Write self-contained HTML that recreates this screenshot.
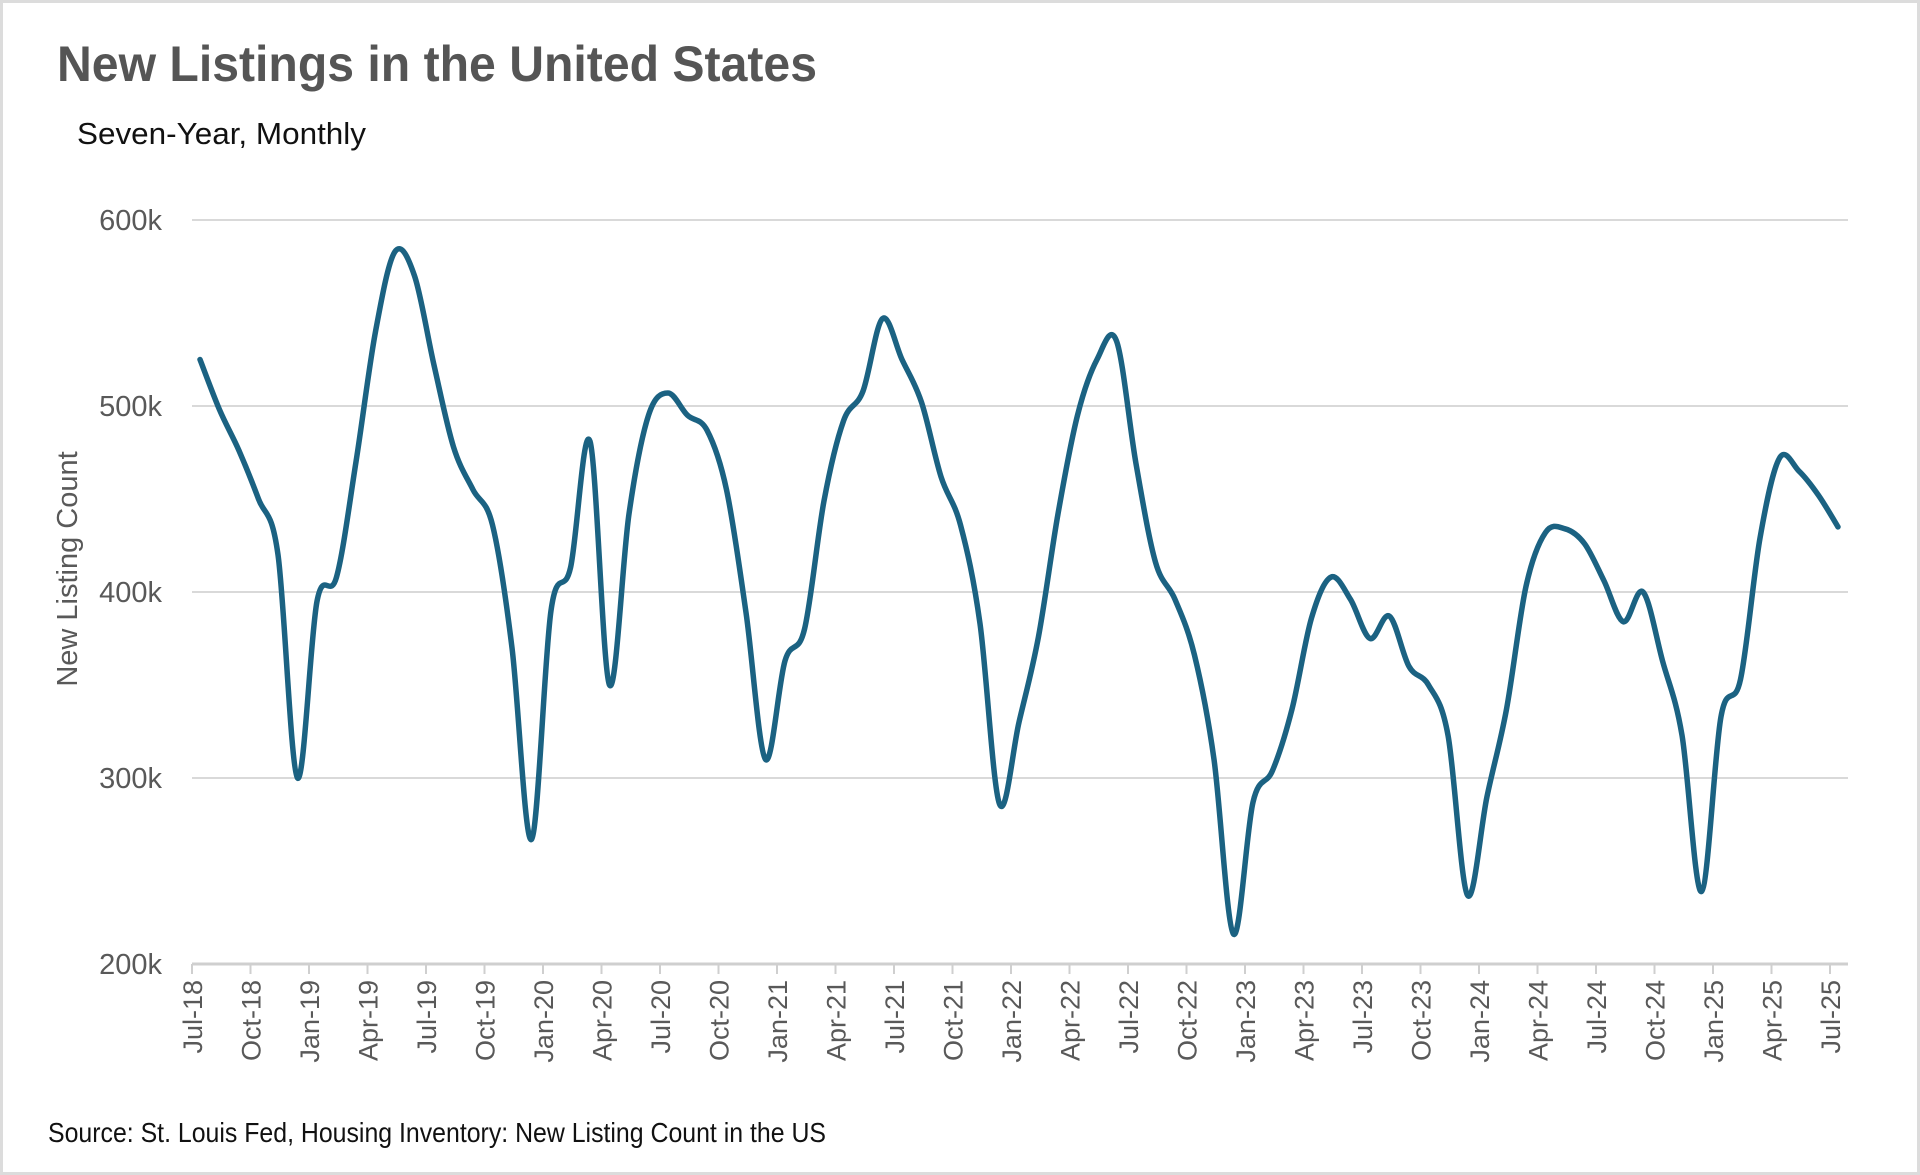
<!DOCTYPE html>
<html><head><meta charset="utf-8">
<style>
html,body{margin:0;padding:0;background:#fff;}
svg{display:block;}
text{font-family:"Liberation Sans Narrow","Liberation Sans",sans-serif;}
</style></head>
<body>
<svg id="chart" width="1920" height="1175" viewBox="0 0 1920 1175" xmlns="http://www.w3.org/2000/svg">
<rect x="1.5" y="1.5" width="1917" height="1172" fill="#fff" stroke="#dcdcdc" stroke-width="3"/>
<text x="57" y="81" font-size="50" font-weight="bold" fill="#555" textLength="760" lengthAdjust="spacingAndGlyphs">New Listings in the United States</text>
<text x="77" y="144" font-size="31" fill="#111" textLength="289" lengthAdjust="spacingAndGlyphs">Seven-Year, Monthly</text>
<text transform="translate(77,569) rotate(-90)" text-anchor="middle" font-size="29" fill="#595959" style="font-family:'Liberation Sans',sans-serif">New Listing Count</text>
<g id="grid"></g>
<g id="yticks"></g>
<g id="xaxis"></g>
<path id="series" fill="none" stroke="#1b6282" stroke-width="5.5" stroke-linejoin="round" stroke-linecap="round"/>
<text x="48" y="1142" font-size="28" fill="#111" textLength="778" lengthAdjust="spacingAndGlyphs">Source: St. Louis Fed, Housing Inventory: New Listing Count in the US</text>
</svg>
<script>
const values = [525,498,476,450,420,300,395,408,470,540,583,570,522,478,455,436,370,267,390,413,481,350,442,495,507,495,487,455,389,310,363,380,449,492,508,547,525,502,462,436,383,286,330,376,442,495,525,535,469,416,396,366,310,216,287,304,337,386,408,396,375,387,360,350,323,237,290,337,403,432,434,426,406,384,400,363,323,239,333,353,429,472,465,452,435];
const yTicks = [200,300,400,500,600];
const yTickLabels = ["200k","300k","400k","500k","600k"];
const monthNames = ["Jan","Feb","Mar","Apr","May","Jun","Jul","Aug","Sep","Oct","Nov","Dec"];
const startMonth = 6, startYear = 18;

const NS="http://www.w3.org/2000/svg";
const x0=192, x1=1830, yBase=964, yPer100=186, gridRight=1848, lineOffset=8;
const n=values.length;
function xS(i){return x0+(x1-x0)*i/(n-1);}
function yS(v){return yBase-(v-200)*yPer100/100;}

const grid=document.getElementById('grid'), yt=document.getElementById('yticks'), xa=document.getElementById('xaxis');
yTicks.forEach((t,k)=>{
  const l=document.createElementNS(NS,'line');
  l.setAttribute('x1',x0);l.setAttribute('x2',gridRight);
  l.setAttribute('y1',yS(t));l.setAttribute('y2',yS(t));
  l.setAttribute('stroke',t===200?'#cfcfcf':'#d9d9d9');l.setAttribute('stroke-width',t===200?3:2);
  
  
  grid.appendChild(l);
  const tx=document.createElementNS(NS,'text');
  tx.setAttribute('x',162);tx.setAttribute('y',yS(t)+10);
  tx.setAttribute('text-anchor','end');tx.setAttribute('font-size','29');tx.setAttribute('fill','#595959');
  tx.textContent=yTickLabels[k];
  
  
  yt.appendChild(tx);
});
for(let i=0;i<n;i+=3){
  const x=xS(i);
  const tk=document.createElementNS(NS,'line');
  tk.setAttribute('x1',x);tk.setAttribute('x2',x);tk.setAttribute('y1',yBase);tk.setAttribute('y2',yBase+10);
  tk.setAttribute('stroke','#cfcfcf');tk.setAttribute('stroke-width',2);
  
  
  xa.appendChild(tk);
  const m=(startMonth+i)%12, yr=startYear+Math.floor((startMonth+i)/12);
  const tx=document.createElementNS(NS,'text');
  tx.setAttribute('transform','translate('+(x+10)+','+(yBase+16)+') rotate(-90)');
  tx.setAttribute('text-anchor','end');tx.setAttribute('font-size','27');tx.setAttribute('fill','#595959');
  tx.setAttribute('style',"font-family:'Liberation Sans',sans-serif");
  tx.textContent=monthNames[m]+'-'+yr;
  
  
  xa.appendChild(tx);
}
const pts=values.map((v,i)=>[xS(i)+lineOffset,yS(v)]);
let d='M'+pts[0][0].toFixed(1)+','+pts[0][1].toFixed(1);
for(let i=0;i<n-1;i++){
  const p0=pts[Math.max(0,i-1)],p1=pts[i],p2=pts[i+1],p3=pts[Math.min(n-1,i+2)];
  const c1=[p1[0]+(p2[0]-p0[0])/6,p1[1]+(p2[1]-p0[1])/6];
  const c2=[p2[0]-(p3[0]-p1[0])/6,p2[1]-(p3[1]-p1[1])/6];
  d+=' C'+c1[0].toFixed(1)+','+c1[1].toFixed(1)+' '+c2[0].toFixed(1)+','+c2[1].toFixed(1)+' '+p2[0].toFixed(1)+','+p2[1].toFixed(1);
}
document.getElementById('series').setAttribute('d',d);
</script>
</body></html>
